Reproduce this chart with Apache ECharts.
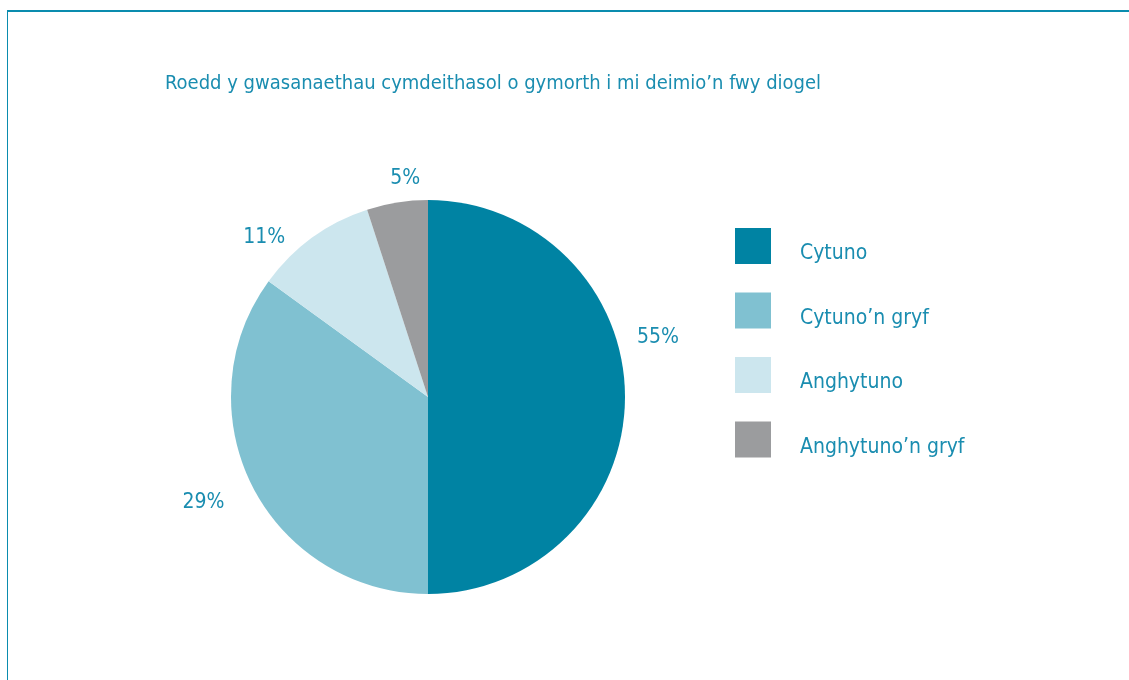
<!DOCTYPE html>
<html>
<head>
<meta charset="utf-8">
<script src="https://cdn.jsdelivr.net/npm/echarts@6/dist/echarts.min.js"></script>
<style>
  html, body { margin: 0; padding: 0; background: #ffffff; }
  #frame { position: absolute; left: 7px; top: 10px; width: 1122px; height: 670px;
           border-top: 2px solid #0a8cae; border-left: 1px solid #0a8cae; box-sizing: border-box; }
  #chart { position: absolute; left: 0; top: 0; width: 1129px; height: 680px; }
</style>
</head>
<body>
<div id="frame"></div>
<div id="chart"></div>
<script>
// Data
const titleText = 'Roedd y gwasanaethau cymdeithasol o gymorth i mi deimio\u2019n fwy diogel';
const categories = ['Cytuno', 'Cytuno\u2019n gryf', 'Anghytuno', 'Anghytuno\u2019n gryf'];
const sliceShares = [50, 35, 10, 5];          // slice sizes as drawn
const percentLabels = ['55%', '29%', '11%', '5%']; // printed labels

// Styling
const colors = ['#0083a3', '#80c1d1', '#cce6ee', '#9b9c9e'];
const textColor = '#1a8db0';
const fontFam = '"Liberation Sans Narrow", "DejaVu Sans Condensed", "Liberation Sans", sans-serif';
const labelOffsets = [[12, -59], [-28, 16], [-27, 0], [23, -24]];

const chart = echarts.init(document.getElementById('chart'));
chart.setOption({
  animation: false,
  color: colors,
  title: {
    text: titleText,
    left: 160,
    top: 69,
    textStyle: { color: textColor, fontFamily: fontFam, fontWeight: 'normal', fontSize: 20 }
  },
  legend: {
    orient: 'vertical',
    left: 730,
    top: 223,
    itemWidth: 36,
    itemHeight: 36,
    itemGap: 28,
    icon: 'rect',
    selectedMode: false,
    formatter: n => '{t|' + n + '}',
    textStyle: {
      color: textColor, fontFamily: fontFam, fontSize: 21, padding: [0, 0, 0, 24],
      rich: { t: { color: textColor, fontFamily: fontFam, fontSize: 21, padding: [16, 0, 0, 0] } }
    },
    data: categories
  },
  series: [{
    type: 'pie',
    center: [428, 397],
    radius: 197,
    startAngle: 90,
    clockwise: true,
    avoidLabelOverlap: false,
    silent: true,
    label: {
      show: true,
      position: 'outside',
      distanceToLabelLine: 0,
      color: textColor,
      fontFamily: fontFam,
      fontSize: 21,
      formatter: p => percentLabels[p.dataIndex]
    },
    labelLine: { show: false, length: 0, length2: 0 },
    labelLayout: p => ({ dx: labelOffsets[p.dataIndex][0], dy: labelOffsets[p.dataIndex][1] }),
    data: categories.map((c, i) => ({ name: c, value: sliceShares[i] }))
  }]
});
</script>
</body>
</html>
